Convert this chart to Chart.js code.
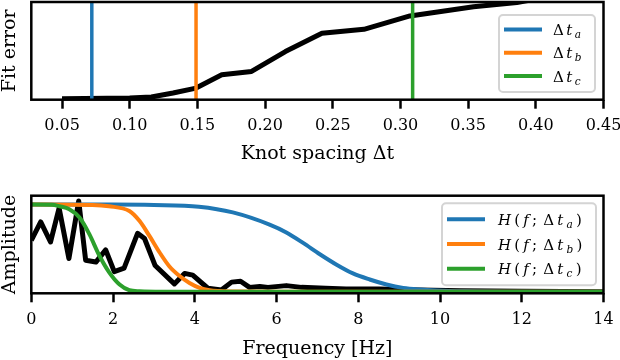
<!DOCTYPE html>
<html>
<head>
<meta charset="utf-8">
<script src="https://cdn.jsdelivr.net/npm/chart.js@4.4.1/dist/chart.umd.min.js"></script>
<style>
  html, body { margin: 0; padding: 0; background: #fff; }
  #wrap { position: relative; width: 620px; height: 360px; }
  .panel { position: absolute; left: 0; width: 620px; height: 180px; }
</style>
</head>
<body>
<div id="wrap">
  <div class="panel" style="top:0"><canvas id="fit" width="620" height="180"></canvas></div>
  <div class="panel" style="top:180px"><canvas id="spec" width="620" height="180"></canvas></div>
</div>
<script>
// ---- top panel: fit error vs knot spacing
const knotSpacing = [0.05, 0.10, 0.116, 0.132, 0.149, 0.168, 0.19, 0.215, 0.242, 0.273, 0.307, 0.354, 0.386, 0.42];
const fitError = [0.01, 0.017, 0.028, 0.068, 0.119, 0.255, 0.289, 0.493, 0.68, 0.72, 0.857, 0.952, 0.995, 1.08];
const chosenSpacing = [0.072, 0.149, 0.309];
const spacingLabels = ['Δt_a', 'Δt_b', 'Δt_c'];
const knotTicks = [0.05, 0.10, 0.15, 0.20, 0.25, 0.30, 0.35, 0.40, 0.45];

// ---- bottom panel: spectrum and filter responses
const freq = [0, 0.23, 0.47, 0.68, 0.92, 1.16, 1.33, 1.58, 1.82, 2.03, 2.27, 2.6, 2.77, 3.03, 3.5, 3.75, 3.95, 4.32, 4.65, 4.9, 5.12, 5.34, 5.59, 5.79, 6.24, 6.61, 7.2, 7.7, 8.5, 9.5, 10.5, 12, 14];
const spectrum = [0.59, 0.80, 0.57, 0.96, 0.38, 1.04, 0.36, 0.34, 0.48, 0.23, 0.27, 0.67, 0.61, 0.30, 0.09, 0.21, 0.19, 0.04, 0.02, 0.11, 0.12, 0.05, 0.06, 0.05, 0.07, 0.05, 0.04, 0.03, 0.03, 0.02, 0.01, 0.005, 0];

const freqA = [0, 2, 3, 4.1, 4.93, 5.83, 6.24, 6.65, 7.06, 7.47, 7.87, 8.28, 8.69, 9.1, 9.51, 9.92, 10.6, 12, 14];
const gainA = [1, 1, 0.995, 0.975, 0.91, 0.77, 0.68, 0.56, 0.43, 0.31, 0.21, 0.14, 0.083, 0.044, 0.025, 0.014, 0.005, 0, 0];
const freqB = [0, 1.5, 1.9, 2.4, 2.65, 2.89, 3.14, 3.38, 3.63, 3.87, 4.12, 4.36, 4.6, 5.2, 6, 14];
const gainB = [1, 0.995, 0.98, 0.925, 0.81, 0.64, 0.45, 0.29, 0.18, 0.10, 0.044, 0.017, 0.008, 0.002, 0, 0];
const freqC = [0, 0.5, 0.69, 0.93, 1.18, 1.42, 1.67, 1.91, 2.16, 2.4, 2.65, 3.2, 14];
const gainC = [1, 0.998, 0.98, 0.945, 0.85, 0.66, 0.41, 0.22, 0.083, 0.017, 0.005, 0, 0];
const filterLabels = ['H(f; Δt_a)', 'H(f; Δt_b)', 'H(f; Δt_c)'];
const freqTicks = [0, 2, 4, 6, 8, 10, 12, 14];

const COLORS = ['#1f77b4', '#ff7f0e', '#2ca02c'];
const SERIF = "'DejaVu Serif', serif";

const pts = (xs, ys) => xs.map((x, i) => ({ x, y: ys[i] }));

// draw a tiny bit of math: latin letters italic, "_x" as subscript
function drawMath(ctx, str, x, y, size, gap) {
  ctx.textBaseline = 'alphabetic';
  ctx.fillStyle = '#000';
  for (let i = 0; i < str.length; i++) {
    let ch = str[i], sub = false;
    if (ch === '_') { sub = true; ch = str[++i]; }
    const s = sub ? size * 0.7 : size;
    const it = /[A-Za-z]/.test(ch) ? 'italic ' : '';
    ctx.font = it + s + 'px ' + SERIF;
    if (ch === ' ') { x += size * 0.2; continue; }
    ctx.fillText(ch, x, y + (sub ? 3 : 0));
    x += ctx.measureText(ch).width + gap;
  }
}

const framePlugin = {
  id: 'frame',
  afterDatasetsDraw(chart) {
    const { ctx, chartArea: a } = chart;
    ctx.save();
    ctx.strokeStyle = '#000';
    ctx.lineWidth = 2.5;
    ctx.strokeRect(a.left, a.top, a.right - a.left, a.bottom - a.top);
    ctx.restore();
  }
};

const insetLegend = {
  id: 'insetLegend',
  afterDraw(chart, args, o) {
    const { ctx, chartArea: a } = chart;
    const items = chart.data.datasets.filter(d => d.label);
    const x0 = a.right - o.right - o.width, y0 = a.top + o.top;
    ctx.save();
    ctx.beginPath();
    ctx.roundRect(x0, y0, o.width, o.height, 4);
    ctx.fillStyle = 'rgba(255,255,255,0.8)';
    ctx.fill();
    ctx.strokeStyle = '#d4d4d4';
    ctx.lineWidth = 2;
    ctx.stroke();
    items.forEach((d, i) => {
      const y = y0 + o.firstRow + i * o.rowGap;
      ctx.strokeStyle = d.borderColor;
      ctx.lineWidth = 4;
      ctx.beginPath();
      ctx.moveTo(x0 + 5, y);
      ctx.lineTo(x0 + 43, y);
      ctx.stroke();
      drawMath(ctx, d.label, x0 + o.textX, y + 5.5, 15, o.gap);
    });
    ctx.restore();
  }
};

function baseOptions(cfg) {
  return {
    responsive: false,
    animation: false,
    devicePixelRatio: 1,
    layout: { padding: { left: 0, right: 16.5, top: cfg.top, bottom: 0 } },
    plugins: {
      legend: { display: false },
      tooltip: { enabled: false },
      insetLegend: cfg.legend
    },
    elements: { point: { radius: 0 } },
    scales: {
      x: {
        type: 'linear',
        min: cfg.xMin,
        max: cfg.xMax,
        afterBuildTicks: s => { s.ticks = cfg.xTicks.map(v => ({ value: v })); },
        afterFit: s => { s.height = cfg.xHeight; s.paddingLeft = 0; s.paddingRight = 0; },
        border: { display: false },
        grid: { drawOnChartArea: false, drawTicks: true, tickLength: 9, tickWidth: 2.5, tickColor: '#000' },
        ticks: {
          color: '#000',
          font: { family: SERIF, size: 16 },
          padding: 8,
          maxRotation: 0,
          autoSkip: false,
          callback: cfg.fmt
        },
        title: {
          display: true,
          text: cfg.xTitle,
          color: '#000',
          font: { family: SERIF, size: 19, lineHeight: 1 },
          padding: { top: 0, bottom: cfg.titlePad }
        }
      },
      y: {
        min: cfg.yMin,
        max: cfg.yMax,
        afterFit: s => { s.width = 31.3; s.paddingTop = 0; s.paddingBottom = 0; },
        border: { display: false },
        grid: { display: false },
        ticks: { display: false },
        title: {
          display: true,
          text: cfg.yTitle,
          color: '#000',
          font: { family: SERIF, size: 19, lineHeight: 1 },
          padding: { top: 0.5, bottom: 0 }
        }
      }
    }
  };
}

// top chart
const fitMin = 0, fitMax = 1;
new Chart(document.getElementById('fit'), {
  type: 'line',
  data: {
    datasets: [
      { data: pts(knotSpacing, fitError), borderColor: '#000', borderWidth: 5,
        borderJoinStyle: 'round', tension: 0, clip: 0, order: 10 },
      ...chosenSpacing.map((dt, i) => ({
        label: spacingLabels[i],
        data: [{ x: dt, y: fitMin }, { x: dt, y: fitMax }],
        borderColor: COLORS[i], borderWidth: 3.5, clip: 0, order: i
      }))
    ]
  },
  options: baseOptions({
    top: 2, xMin: 0.0273, xMax: 0.45, xTicks: knotTicks, fmt: v => v.toFixed(2),
    yMin: fitMin, yMax: fitMax, xHeight: 80.3, titlePad: 16,
    xTitle: 'Knot spacing Δt', yTitle: 'Fit error',
    legend: { right: 8.5, top: 13, width: 96, height: 77, firstRow: 14.5, rowGap: 23.3, textX: 54, gap: 2.5 }
  }),
  plugins: [framePlugin, insetLegend]
});

// bottom chart
const filters = [[freqA, gainA], [freqB, gainB], [freqC, gainC]];
new Chart(document.getElementById('spec'), {
  type: 'line',
  data: {
    datasets: [
      { data: pts(freq, spectrum), borderColor: '#000', borderWidth: 5,
        borderJoinStyle: 'round', tension: 0, clip: 0, order: 10 },
      ...filters.map(([f, g], i) => ({
        label: filterLabels[i],
        data: pts(f, g),
        borderColor: COLORS[i], borderWidth: 4, clip: 0,
        cubicInterpolationMode: 'monotone', order: 2 - i
      }))
    ]
  },
  options: baseOptions({
    top: 15.7, xMin: 0, xMax: 14, xTicks: freqTicks, fmt: v => String(v),
    yMin: -0.018, yMax: 1.101, xHeight: 66.7, titlePad: 1,
    xTitle: 'Frequency [Hz]', yTitle: 'Amplitude',
    legend: { right: 7.5, top: 7.5, width: 154, height: 82, firstRow: 16, rowGap: 24.8, textX: 56, gap: 3.2 }
  }),
  plugins: [framePlugin, insetLegend]
});
</script>
</body>
</html>
